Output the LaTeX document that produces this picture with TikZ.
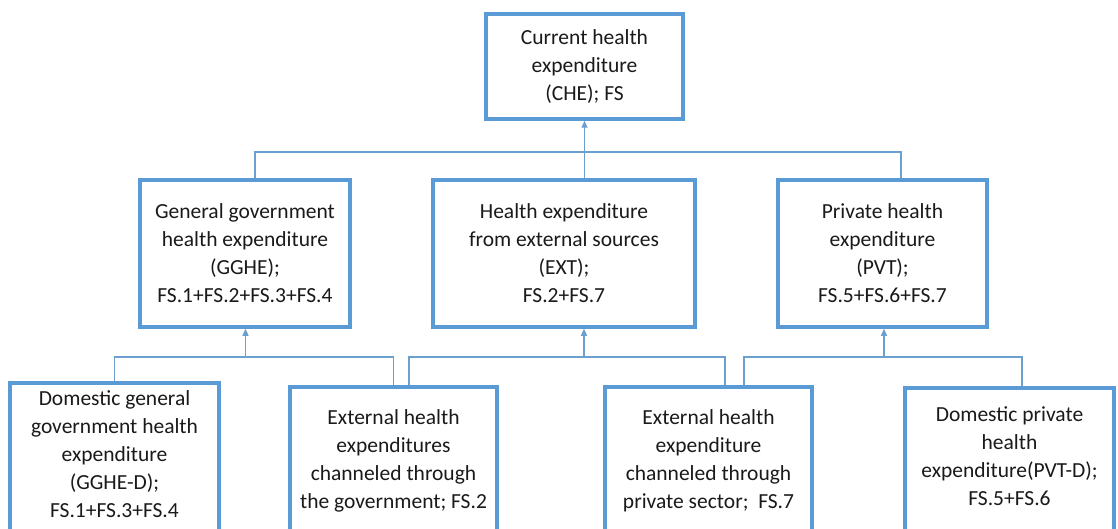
\documentclass[tikz,border=0pt]{standalone}
\usepackage{fontspec}
\setmainfont{Carlito}
\usetikzlibrary{arrows.meta}
\definecolor{boxblue}{HTML}{5B9BD5}
\definecolor{lineblue}{HTML}{6A9FCF}
\definecolor{txt}{HTML}{1A1A1A}
\tikzset{
  btext/.style={align=center, inner sep=0pt, text=txt, font=\fontsize{21.5}{28}\selectfont},
  hbox/.style={btext, draw=boxblue, line width=3.5pt, fill=white, minimum height=147pt},
  conn/.style={draw=lineblue, line width=1.1pt},
  arr/.style={conn, -{Triangle[length=7pt,width=6pt]}}
}
\begin{document}
\begin{tikzpicture}[x=1pt,y=-1pt]
\clip (0,0) rectangle (1118,529);
\fill[white] (0,0) rectangle (1118,529);
% top
\node[hbox, minimum width=197pt, minimum height=105pt] (che) at (584.5,66.5)
  {Current health\\expenditure\\(CHE); FS};
% middle row
\node[hbox, minimum width=210pt] (ggh) at (245,253.5)
  {General government\\health expenditure\\(GGHE);\\FS.1+FS.2+FS.3+FS.4};
\node[hbox, minimum width=262pt] (ext) at (564,253.5)
  {Health expenditure\\from external sources\\(EXT);\\FS.2+FS.7};
\node[hbox, minimum width=209pt] (pvt) at (882.5,253.5)
  {Private health\\expenditure\\(PVT);\\FS.5+FS.6+FS.7};
% bottom row
\node[hbox, minimum width=209pt, minimum height=150pt] (dgg) at (114.5,458) {};
\node[btext] (dggt) at (114.5,454)
  {Domestic general\\government health\\expenditure\\(GGHE-D);\\FS.1+FS.3+FS.4};
\node[hbox, minimum width=207pt] (egov) at (393.5,460.5)
  {External health\\expenditures\\channeled through\\the government; FS.2};
\node[hbox, minimum width=207pt] (epriv) at (708.5,460.5)
  {External health\\expenditure\\channeled through\\private sector;\ \ FS.7};
\node[hbox, minimum width=209pt] (dpriv) at (1009.5,461.5) {};
\node[btext] (dprivt) at (1009.5,456)
  {Domestic private\\health\\expenditure(PVT-D);\\FS.5+FS.6};
% bus coordinates
\coordinate (tb) at (584.5,152);
\coordinate (b1) at (245.5,357);
\coordinate (b2) at (584,357);
\coordinate (b3) at (884,357);
% top level
\draw[conn] ([xshift=10pt]ggh.north) |- (tb) -| ([xshift=18.5pt]pvt.north);
\draw[arr] (che.south |- ext.north) -- (che.south);
% GGHE group
\draw[conn] (dgg.north) |- (b1) -| (egov.north);
\draw[arr] (b1) -- (b1 |- ggh.south);
% EXT group
\draw[conn] ([xshift=15.5pt]egov.north) |- (b2) -| ([xshift=16.5pt]epriv.north);
\draw[arr] (b2) -- (b2 |- ext.south);
% PVT group
\draw[conn] ([xshift=35.5pt]epriv.north) |- (b3) -| ([xshift=12.5pt]dpriv.north);
\draw[arr] (b3) -- (b3 |- pvt.south);
\end{tikzpicture}
\end{document}
